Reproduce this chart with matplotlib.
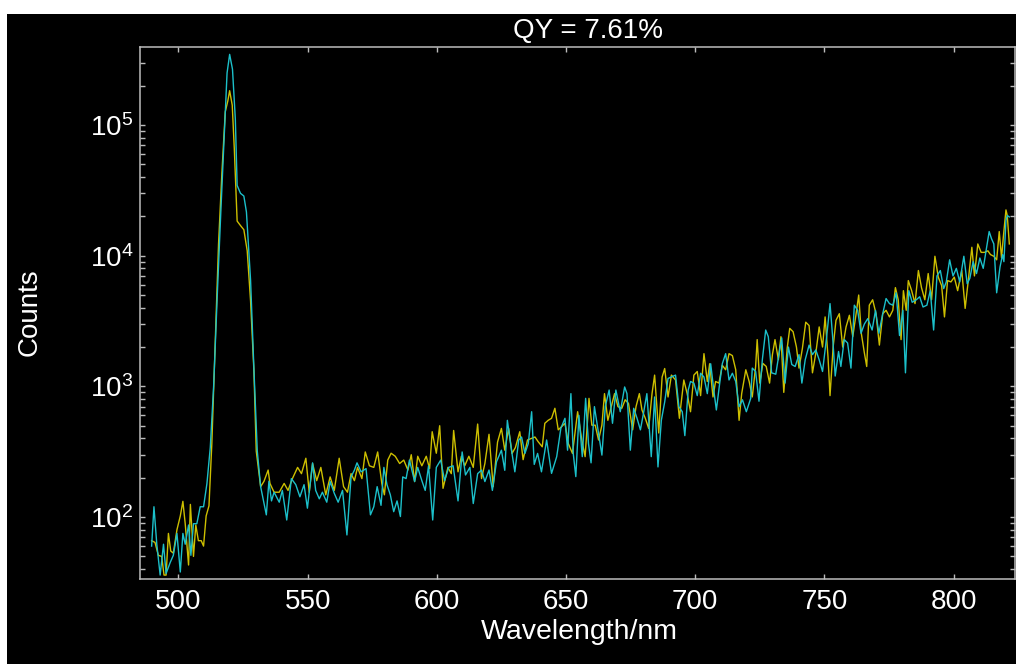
import matplotlib
matplotlib.use('Agg')
import matplotlib.pyplot as plt
from matplotlib.patches import Rectangle
from matplotlib.ticker import LogLocator, NullLocator, FixedLocator

plt.rcParams['font.family'] = ['Liberation Sans', 'DejaVu Sans']
plt.rcParams['mathtext.default'] = 'regular'

title_text = 'QY = 7.61%'
x_label = 'Wavelength/nm'
y_label = 'Counts'
x_ticks = [500, 550, 600, 650, 700, 750, 800]

wl_cyan = [
    489.6, 490.5, 491.6, 492.9, 494.2, 495.2, 496.8, 498.0, 499.4, 500.7,
    501.7, 502.6, 503.9, 504.8, 505.8, 507.1, 508.4, 509.7, 511.0, 512.3,
    513.6, 515.1, 516.4, 517.8, 518.8, 519.8, 520.9, 522.0, 522.7, 524.0,
    525.3, 526.3, 527.9, 529.2, 530.5,
    531.8, 534.0, 535.0, 536.0, 537.0, 539.0, 540.2, 541.9, 543.7, 545.4,
    547.0, 548.6, 549.9, 551.9, 553.1, 554.5, 555.7, 557.4, 558.7, 560.3,
    561.8, 563.5, 565.2, 566.8, 568.1, 569.1, 570.7, 572.6, 574.3, 575.6,
    576.9, 578.4, 579.5, 580.7, 582.0, 583.3, 584.6, 585.9, 586.8, 588.1,
    589.4, 591.4, 592.6, 594.2, 595.5, 596.8, 598.4, 599.8, 601.5, 603.0,
    604.6, 606.3, 608.2, 609.8, 611.1, 612.8, 614.1, 615.8, 617.3, 618.6,
    620.2, 621.5, 623.1,
    625.0, 626.3, 627.3, 628.9, 630.2, 631.7, 632.8, 634.1, 635.4, 636.7,
    637.7, 639.0, 640.5, 642.5, 644.4, 646.4, 648.0, 649.6, 650.6, 651.9,
    652.8, 653.8, 655.0, 656.3, 657.6, 658.7, 659.7, 661.0, 662.3, 663.9,
    665.2, 666.7, 668.0, 669.3, 671.0, 672.7, 673.6, 674.9, 676.2, 677.5,
    678.8, 680.1, 681.3, 683.0, 684.3, 685.6, 686.9, 688.2, 689.5, 690.8,
    692.4, 693.7, 695.0, 696.0, 697.3, 698.2, 699.5, 700.8, 702.1, 703.4,
    704.7, 706.0, 707.3, 708.2, 709.5, 710.5, 711.8, 713.1, 714.4, 715.7,
    717.0, 718.3, 719.8, 721.5,
    722.1, 723.4, 724.7, 726.0, 727.3, 728.3, 729.6, 731.2, 732.5, 733.5,
    734.8, 736.1, 737.4, 738.7, 740.2, 741.3, 742.6, 744.1, 745.4, 746.7,
    748.0, 749.3, 750.9, 752.2, 753.2, 754.2, 755.5, 756.4, 757.7, 759.0,
    760.3, 761.6, 762.9, 764.2, 765.5, 766.8, 768.5, 769.8, 771.1, 772.6,
    773.9, 775.2, 776.5, 777.8, 779.1, 780.4, 781.4, 782.7, 784.0, 785.6,
    786.9, 788.2, 789.7, 791.0, 792.3, 793.6, 794.9, 796.2, 797.2, 798.5,
    799.8, 801.1, 802.4, 804.0, 805.3, 806.3, 807.6, 808.9, 810.2, 811.5,
    812.8, 813.8, 814.7, 815.6, 816.7, 818.0, 819.0, 819.5, 820.3, 820.8,
    821.6,
]
counts_cyan = [
    60, 120, 62, 36, 62, 37, 45, 51, 75, 38,
    75, 62, 87, 51, 89, 89, 120, 120, 180, 340,
    1000, 5500, 22000, 90000, 250000, 347000, 267000, 111000, 34500, 30000,
    28600, 21600, 6500, 1350, 320,
    171, 104, 188, 133, 155, 130, 160, 95, 197, 177,
    143, 177, 117, 260, 160, 138, 155, 130, 187, 152,
    130, 160, 73, 203, 229, 260, 222, 235, 104, 120,
    171, 123, 240, 177, 148, 110, 133, 101, 203, 197,
    273, 187, 240, 190, 160, 247, 95, 240, 273, 190,
    240, 247, 133, 315, 210, 240, 127, 215, 229, 187,
    229, 160, 265,
    325, 228, 550, 325, 222, 389, 410, 307, 365, 640,
    253, 307, 222, 389, 216, 290, 477, 570, 325, 880,
    307, 204, 600, 290, 810, 365, 260, 700, 477, 298,
    700, 938, 522, 938, 640, 990, 880, 325, 680, 570,
    465, 640, 880, 290, 830, 242, 550, 760, 1150, 1180,
    1220, 700, 640, 420, 938, 1090, 1060, 850, 1260, 1180,
    880, 1490, 905, 660, 1060, 1490, 1780, 1120, 1260, 1090,
    700, 790, 640, 810,
    1380, 1300, 770, 1600, 2700, 2400, 1270, 1240, 1800, 2350,
    1060, 2000, 1470, 1420, 1750, 1060, 1600, 2070, 1750, 1900,
    1600, 1300, 2400, 4300, 2400, 1200, 1850, 1420, 2280, 2150,
    1380, 4180, 3820, 2550, 3000, 3300, 2700, 3820, 2550, 3600,
    4700, 4300, 4180, 5200, 2450, 3820, 1270, 5400, 4400, 4600,
    4850, 4050, 4180, 5400, 2700, 7000, 7700, 5600, 6300, 9300,
    7000, 8000, 6300, 9900, 6100, 6700, 9000, 7300, 9600, 8000,
    11600, 15300, 13500, 12300, 5200, 8200, 10200, 9000, 18600, 20300,
    19800,
]

wl_yellow = [
    489.6, 490.9, 492.2, 493.5, 494.4, 495.2, 496.1, 497.0, 498.0, 499.4,
    500.7, 501.7, 502.6, 503.9, 504.6, 505.8, 506.7, 507.7, 508.8, 509.7,
    510.7, 511.8, 512.9, 514.2, 515.5, 516.8, 518.1, 519.1, 519.8, 520.8,
    521.6, 522.7, 524.0, 525.3, 526.6, 527.9, 529.2, 530.1,
    531.8, 533.1, 534.7, 535.4, 537.0, 539.0, 540.9, 542.4, 544.1, 546.1,
    547.6, 549.3, 550.6, 551.9, 553.5, 555.1, 557.0, 558.7, 560.3, 562.2,
    563.9, 565.4, 566.8, 568.1, 569.3, 571.0, 572.3, 573.9, 575.6, 577.1,
    578.7, 579.7, 581.0, 582.3, 583.9, 585.6, 587.2, 588.8, 590.1, 591.4,
    592.6, 594.2, 595.9, 597.2, 598.2, 599.8, 601.1, 602.4, 604.3, 605.6,
    606.5, 608.2, 609.5, 610.8, 612.4, 614.1, 615.8, 617.3, 618.6, 620.2,
    621.8, 623.5,
    625.0, 626.3, 627.8, 629.1, 630.4, 632.1, 633.4, 635.1, 636.7, 638.0,
    639.2, 640.8, 641.8, 643.1, 644.4, 645.7, 647.0, 648.3, 649.6, 650.9,
    652.5, 654.5, 656.1, 657.4, 658.9, 660.0, 661.3, 662.6, 663.9, 664.9,
    666.2, 667.7, 668.8, 670.1, 671.6, 672.9, 674.2, 675.8, 677.1, 678.4,
    679.4, 680.7, 682.0, 683.3, 684.3, 685.9, 687.2, 688.2, 689.5, 690.8,
    692.4, 693.9, 695.6, 696.9, 698.2, 699.5, 700.8, 702.1, 703.4, 704.7,
    705.6, 706.9, 707.9, 709.2, 710.5, 711.8, 713.1, 714.4, 715.7, 717.0,
    718.0, 719.6, 720.9,
    722.1, 723.4, 724.0, 725.0, 726.2, 727.5, 728.8, 729.9, 730.9, 732.2,
    733.2, 734.3, 735.6, 736.6, 737.9, 739.2, 740.2, 741.5, 742.8, 744.1,
    745.4, 746.7, 748.0, 749.3, 750.3, 751.4, 752.2, 753.4, 754.5, 755.8,
    757.1, 758.4, 759.7, 761.0, 762.3, 763.3, 764.3, 765.5, 766.4, 767.4,
    768.7, 770.0, 771.3, 772.6, 773.9, 775.2, 776.5, 777.5, 778.6, 779.7,
    780.6, 781.7, 782.5, 783.8, 785.1, 786.4, 787.6, 788.9, 790.2, 791.5,
    792.8, 794.1, 795.4, 796.5, 797.7, 799.0, 800.3, 801.6, 803.2, 804.5,
    805.8, 807.1, 808.1, 809.4, 810.7, 812.0, 813.3, 814.3, 815.6, 816.7,
    817.7, 818.6, 819.3, 820.3, 820.8, 821.6,
]
counts_yellow = [
    66, 64, 51, 50, 36, 36, 75, 55, 53, 80,
    102, 132, 89, 43, 125, 50, 87, 66, 66, 60,
    102, 122, 363, 2100, 12300, 43000, 126000, 153000, 183000, 142000,
    66000, 18400, 17000, 15800, 10900, 4500, 1300, 320,
    171, 188, 229, 181, 155, 155, 181, 160, 197, 240,
    215, 282, 155, 257, 190, 240, 148, 203, 160, 282,
    171, 155, 215, 190, 240, 197, 315, 247, 240, 315,
    181, 148, 273, 308, 292, 257, 273, 229, 300, 187,
    292, 247, 292, 235, 450, 308, 500, 166, 240, 215,
    460, 222, 292, 247, 292, 240, 515, 197, 257, 430,
    171, 375,
    477, 325, 477, 307, 340, 450, 275, 389, 400, 410,
    378, 345, 522, 550, 570, 680, 465, 492, 522, 365,
    307, 640, 389, 290, 810, 505, 505, 389, 505, 880,
    550, 720, 880, 700, 680, 790, 740, 465, 700, 880,
    660, 570, 477, 880, 1220, 440, 1180, 1370, 830, 1220,
    1120, 570, 1120, 880, 640, 1220, 1300, 850, 1780, 1090,
    1490, 830, 1090, 1060, 1450, 1340, 1780, 1720, 1340, 550,
    880, 1340, 1090,
    830, 1420, 2280, 1060, 1500, 1420, 1060, 1750, 2280, 1600,
    2400, 900, 1950, 2780, 2620, 2000, 1380, 1950, 3100, 2920,
    1270, 1800, 2850, 2000, 3400, 1700, 850, 2000, 3200, 3600,
    2000, 2850, 3500, 2400, 3600, 5000, 2550, 1800, 1420, 4180,
    4600, 3600, 2070, 3600, 3820, 3400, 3820, 5700, 4600, 2280,
    5400, 3820, 6450, 5400, 4300, 7700, 5700, 4600, 7300, 4600,
    9900, 6850, 5900, 3400, 6450, 6300, 6850, 5400, 7700, 3950,
    6700, 11600, 7000, 12300, 10600, 10600, 10900, 10200, 9900, 9300,
    15300, 9600, 14000, 22400, 20300, 12300,
]

W, H = 1016, 664
fig = plt.figure(figsize=(W / 100, H / 100), dpi=100, facecolor='white')
fig.add_artist(Rectangle((7 / W, 0), 1, 1 - 14 / H, transform=fig.transFigure,
                         facecolor='black', edgecolor='none', zorder=-10))

left, right, top, bottom = 140, 1015, 47.3, 579
ax = fig.add_axes([left / W, 1 - bottom / H, (right - left) / W, (bottom - top) / H])
ax.set_facecolor('black')
ax.set_yscale('log')

ax.plot(wl_yellow, counts_yellow, color='#CDBF00', lw=1.0)
ax.plot(wl_cyan, counts_cyan, color='#1CC0CA', lw=1.0)

ax.set_xlim(485.1, 823.8)
ax.set_ylim(33.6, 3.93e5)

ax.xaxis.set_major_locator(FixedLocator(x_ticks))
ax.xaxis.set_minor_locator(NullLocator())
ax.yaxis.set_major_locator(LogLocator(base=10))
ax.yaxis.set_minor_locator(LogLocator(base=10, subs=range(2, 10)))

for s in ax.spines.values():
    s.set_color('#BDBDBD')
    s.set_linewidth(1.1)

ax.tick_params(which='both', direction='in', top=True, right=True,
               color='#BDBDBD', labelcolor='white', labelsize=20,
               length=3.6, width=1.0)
ax.tick_params(axis='x', pad=7)
ax.tick_params(axis='y', pad=5)

fig.text(588 / W, 1 - 31 / H, title_text, color='white', fontsize=20,
         ha='center', va='center')
fig.text(579 / W, 1 - 632 / H, x_label, color='white', fontsize=20.5,
         ha='center', va='center')
fig.text(30 / W, 1 - 312 / H, y_label, color='white', fontsize=20,
         ha='center', va='center', rotation=90)

fig.savefig('out.png', dpi=100, facecolor=fig.get_facecolor())
